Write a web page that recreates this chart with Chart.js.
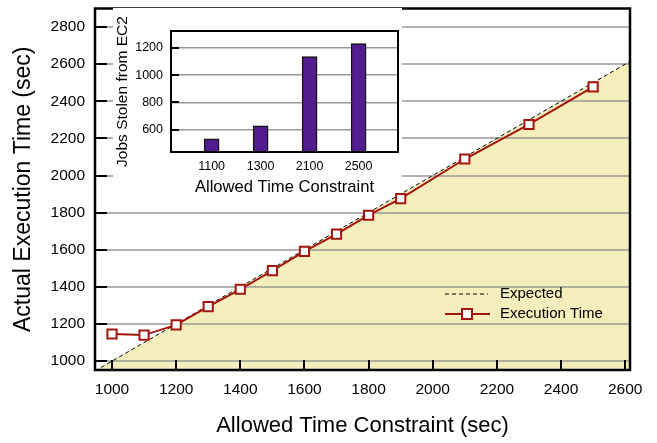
<!DOCTYPE html>
<html>
<head>
<meta charset="utf-8">
<script src="https://cdn.jsdelivr.net/npm/chart.js@4.4.0/dist/chart.umd.min.js"></script>
<style>
  html, body { margin: 0; padding: 0; background: #fff; }
  #wrap { position: relative; width: 657px; height: 443px; }
  #mainChart { position: absolute; left: 0; top: 0; }
  #insetChart { position: absolute; left: 113px; top: 8px; }
</style>
</head>
<body>
<div id="wrap">
  <canvas id="mainChart" width="657" height="443"></canvas>
  <canvas id="insetChart" width="289" height="190"></canvas>
</div>
<script>
// main chart data
const allowedTime = [1000, 1100, 1200, 1300, 1400, 1500, 1600, 1700, 1800, 1900, 2100, 2300, 2500];
const executionTime = [1146, 1140, 1195, 1293, 1387, 1488, 1591, 1684, 1786, 1875, 2089, 2275, 2478];
const expectedEnds = [947, 2615];
const xTickValues = [1000, 1200, 1400, 1600, 1800, 2000, 2200, 2400, 2600];
const yTickValues = [1000, 1200, 1400, 1600, 1800, 2000, 2200, 2400, 2600, 2800];

// inset data
const insetCategories = ['1100', '1300', '2100', '2500'];
const jobsStolen = [531, 627, 1136, 1232];
const insetTickValues = [600, 800, 1000, 1200];

Chart.defaults.font.family = "'Liberation Sans', Arial, Helvetica, sans-serif";
Chart.defaults.color = '#000';

const redColor = '#a3140c';
const fillColor = '#f3eebc';

// quitar el relleno automatico de las etiquetas extremas
function fixVertical(width) {
  return s => { s.width = width; s.paddingTop = 0; s.paddingBottom = 0; };
}
function fixHorizontal(height) {
  return s => { s.height = height; s.paddingLeft = 0; s.paddingRight = 0; };
}

// rejillas, marcas interiores, borde y leyenda
const mainDecor = {
  id: 'mainDecor',
  beforeDatasetsDraw(chart) {
    const { ctx, chartArea: a, scales } = chart;
    ctx.save();
    ctx.strokeStyle = '#999';
    ctx.lineWidth = 1.5;
    yTickValues.forEach(v => {
      const y = Math.round(scales.y.getPixelForValue(v));
      ctx.beginPath();
      ctx.moveTo(a.left, y);
      ctx.lineTo(a.right, y);
      ctx.stroke();
    });
    ctx.restore();
  },
  afterDatasetsDraw(chart) {
    const { ctx, chartArea: a, scales } = chart;
    ctx.save();
    ctx.strokeStyle = '#000';
    ctx.lineWidth = 2;
    yTickValues.forEach(v => {
      const y = Math.round(scales.y.getPixelForValue(v));
      ctx.beginPath();
      ctx.moveTo(a.left, y);
      ctx.lineTo(a.left + 12, y);
      ctx.stroke();
    });
    xTickValues.forEach(v => {
      const x = Math.round(scales.x.getPixelForValue(v));
      ctx.beginPath();
      ctx.moveTo(x, a.bottom);
      ctx.lineTo(x, a.bottom - 10);
      ctx.stroke();
    });
    ctx.lineWidth = 2.5;
    ctx.strokeRect(a.left, a.top, a.right - a.left, a.bottom - a.top);

    // leyenda
    ctx.font = "15px 'Liberation Sans', Arial, sans-serif";
    ctx.fillStyle = '#000';
    ctx.textBaseline = 'middle';
    ctx.lineWidth = 1;
    ctx.setLineDash([4, 3]);
    ctx.beginPath();
    ctx.moveTo(445, 294);
    ctx.lineTo(488, 294);
    ctx.stroke();
    ctx.setLineDash([]);
    ctx.fillText('Expected', 500, 294);

    ctx.strokeStyle = redColor;
    ctx.lineWidth = 2;
    ctx.beginPath();
    ctx.moveTo(445, 314);
    ctx.lineTo(490, 314);
    ctx.stroke();
    ctx.fillStyle = '#fff';
    ctx.fillRect(462, 309, 10, 10);
    ctx.strokeRect(462, 309, 10, 10);
    ctx.fillStyle = '#000';
    ctx.fillText('Execution Time', 500, 314);
    ctx.restore();
  }
};

new Chart(document.getElementById('mainChart').getContext('2d'), {
  type: 'line',
  data: {
    datasets: [
      {
        label: 'Expected',
        data: expectedEnds.map(v => ({ x: v, y: v })),
        borderColor: '#000',
        borderWidth: 1,
        borderDash: [4, 3],
        backgroundColor: fillColor,
        fill: 'start',
        pointRadius: 0,
        order: 2
      },
      {
        label: 'Execution Time',
        data: allowedTime.map((x, i) => ({ x: x, y: executionTime[i] })),
        borderColor: redColor,
        borderWidth: 2,
        backgroundColor: '#fff',
        pointStyle: 'rect',
        pointRadius: 6.5,
        pointBorderWidth: 2,
        pointBackgroundColor: '#fff',
        pointBorderColor: redColor,
        fill: false,
        tension: 0,
        order: 1
      }
    ]
  },
  options: {
    responsive: false,
    animation: false,
    layout: { padding: { left: 0, top: 5, right: 27, bottom: 0 } },
    plugins: {
      legend: { display: false },
      tooltip: { enabled: false },
      filler: { drawTime: 'beforeDatasetsDraw' }
    },
    scales: {
      x: {
        type: 'linear',
        min: 947,
        max: 2615,
        afterBuildTicks: s => { s.ticks = xTickValues.map(v => ({ value: v })); },
        afterFit: fixHorizontal(73),
        grid: { display: false, drawTicks: false },
        border: { display: false },
        ticks: { font: { size: 15.5 }, padding: 10, color: '#000', maxRotation: 0, callback: v => String(v) },
        title: { display: true, text: 'Allowed Time Constraint (sec)', font: { size: 22 }, padding: { top: 0, bottom: 4 } }
      },
      y: {
        type: 'linear',
        min: 952,
        max: 2900,
        afterBuildTicks: s => { s.ticks = yTickValues.map(v => ({ value: v })); },
        afterFit: fixVertical(95),
        grid: { display: false, drawTicks: false },
        border: { display: false },
        ticks: { font: { size: 15.5 }, padding: 10, color: '#000', callback: v => String(v) },
        title: { display: true, text: 'Actual Execution Time (sec)', font: { size: 23 }, padding: { top: 10, bottom: 0 } }
      }
    }
  },
  plugins: [mainDecor]
});

// fondo blanco del recuadro, que tapa la rejilla principal
const insetDecor = {
  id: 'insetDecor',
  beforeDraw(chart) {
    const { ctx, width } = chart;
    ctx.save();
    ctx.fillStyle = '#fff';
    ctx.fillRect(0, 0, width, 178);
    ctx.restore();
  },
  afterDatasetsDraw(chart) {
    const { ctx, chartArea: a, scales } = chart;
    ctx.save();
    ctx.strokeStyle = '#000';
    ctx.lineWidth = 2;
    insetTickValues.forEach(v => {
      const y = Math.round(scales.y.getPixelForValue(v));
      ctx.beginPath();
      ctx.moveTo(a.left, y);
      ctx.lineTo(a.left + 8, y);
      ctx.stroke();
    });
    ctx.lineWidth = 2;
    ctx.strokeRect(a.left, a.top, a.right - a.left, a.bottom - a.top);
    ctx.restore();
  }
};

new Chart(document.getElementById('insetChart').getContext('2d'), {
  type: 'bar',
  data: {
    datasets: [{
      label: 'Jobs Stolen',
      data: jobsStolen.map((v, i) => ({ x: i, y: v })),
      backgroundColor: '#521c8e',
      borderColor: '#111',
      borderWidth: 1.5,
      barThickness: 15
    }]
  },
  options: {
    responsive: false,
    animation: false,
    layout: { padding: { left: 0, top: 23, right: 4, bottom: 0 } },
    plugins: {
      legend: { display: false },
      tooltip: { enabled: false }
    },
    scales: {
      x: {
        type: 'linear',
        min: -0.25,
        max: 3.225,
        afterBuildTicks: s => { s.ticks = insetCategories.map((c, i) => ({ value: i })); },
        afterFit: fixHorizontal(46),
        grid: { display: false, drawTicks: false },
        border: { display: false },
        ticks: { font: { size: 12.5 }, padding: 7, color: '#000', maxRotation: 0, callback: v => insetCategories[v] },
        title: { display: true, text: 'Allowed Time Constraint', font: { size: 16.6 }, padding: { top: 0, bottom: 1 } }
      },
      y: {
        type: 'linear',
        min: 435,
        max: 1325,
        afterBuildTicks: s => { s.ticks = insetTickValues.map(v => ({ value: v })); },
        afterFit: fixVertical(58),
        grid: { color: '#999', lineWidth: 1.5, drawTicks: false },
        border: { display: false },
        ticks: { font: { size: 12.5 }, padding: 8, color: '#000', callback: v => String(v) },
        title: { display: true, text: 'Jobs Stolen from EC2', font: { size: 15.5 }, padding: { top: 0, bottom: 0 } }
      }
    }
  },
  plugins: [insetDecor]
});
</script>
</body>
</html>
